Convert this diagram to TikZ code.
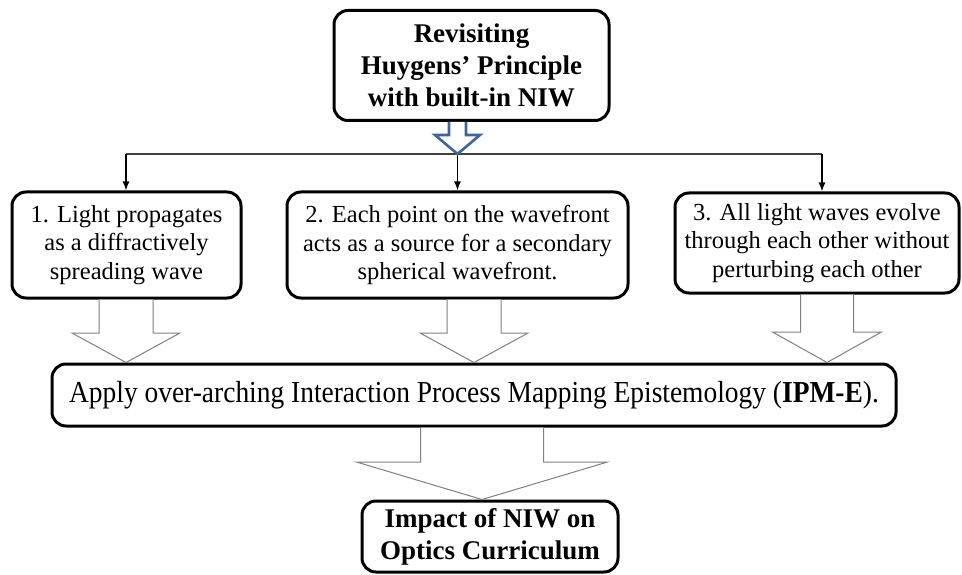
\documentclass[tikz,border=0pt]{standalone}
\usepackage{fontspec}
\setmainfont{Liberation Serif}
\newfontfamily\condserif[FakeStretch=0.9]{Liberation Serif}
\usetikzlibrary{calc,arrows.meta}
\definecolor{arrowblue}{HTML}{41649A}
\tikzset{
  box/.style={draw=black, line width=3pt, rounded corners=14pt, fill=white,
    align=center, inner sep=0pt},
  titlefont/.style={font=\fontsize{27pt}{32pt}\selectfont\bfseries},
  bodyfont/.style={font=\fontsize{24.5pt}{28.5pt}\selectfont},
  hollow/.style={draw=gray, line width=1pt, fill=white, line join=miter},
  bluearrow/.style={draw=arrowblue, line width=2.6pt, fill=white, line join=miter},
  hline/.style={draw=black!75, line width=1.5pt},
  varrow/.style={draw=black, line width=1.5pt, -{Latex[length=9pt,width=7pt]}}
}
\newcommand\blockarr[7][]{%
  \draw[hollow,#1] let \p1=(#2), \p2=(#3) in
    ({(#4-#5)*1pt},\y1) -- ({(#4-#5)*1pt},{-#7pt}) -- ({(#4-#6)*1pt},{-#7pt})
    -- ({#4*1pt},\y2) -- ({(#4+#6)*1pt},{-#7pt}) -- ({(#4+#5)*1pt},{-#7pt})
    -- ({(#4+#5)*1pt},\y1);}
\begin{document}
\begin{tikzpicture}[x=1pt,y=-1pt]
\useasboundingbox (0,0) rectangle (962,575);
\fill[white] (0,0) rectangle (962,575);

% boxes
\node[box, titlefont, minimum width=275pt, minimum height=110pt] (top) at (471.5,65.5)
  {Revisiting\\Huygens’ Principle\\with built-in NIW};
\node[box, bodyfont, minimum width=229pt, minimum height=106pt] (b1) at (126.5,245)
  {1. Light propagates\\as a diffractively\\spreading wave};
\node[box, bodyfont, minimum width=341pt, minimum height=106pt] (b2) at (457.5,245)
  {2. Each point on the wavefront\\acts as a source for a secondary\\spherical wavefront.};
\node[box, bodyfont, minimum width=284pt, minimum height=100pt] (b3) at (817,243)
  {3. All light waves evolve\\through each other without\\perturbing each other};
\node[box, font=\condserif\fontsize{30.5pt}{34pt}\selectfont, minimum width=844pt, minimum height=62pt] (ipm) at (474,395)
  {Apply over-arching Interaction Process Mapping Epistemology (\textbf{IPM-E}).};
\node[box, titlefont, minimum width=256pt, minimum height=71pt] (imp) at (490,536.5)
  {Impact of NIW on\\Optics Curriculum};

% distribution line
\coordinate (h1) at (126,154);
\coordinate (split) at (457.5,154);
\coordinate (h3) at (822,154);
\draw[hline] (h1) -- (h3);
\draw[varrow] (h1) -- (h1 |- b1.north);
\draw[varrow] (split) -- (split |- b2.north);
\draw[varrow] (h3) -- (h3 |- b3.north);

% block arrows
\blockarr[bluearrow]{top.south}{split}{457.5}{8.5}{22.5}{135}
\blockarr{b1.south}{ipm.north}{126}{27}{54}{333}
\blockarr{b2.south}{ipm.north}{474}{27}{54}{333}
\blockarr{b3.south}{ipm.north}{827}{26.5}{54.5}{332}
\blockarr{ipm.south}{imp.north}{482}{61.5}{125.5}{462}
\end{tikzpicture}
\end{document}
